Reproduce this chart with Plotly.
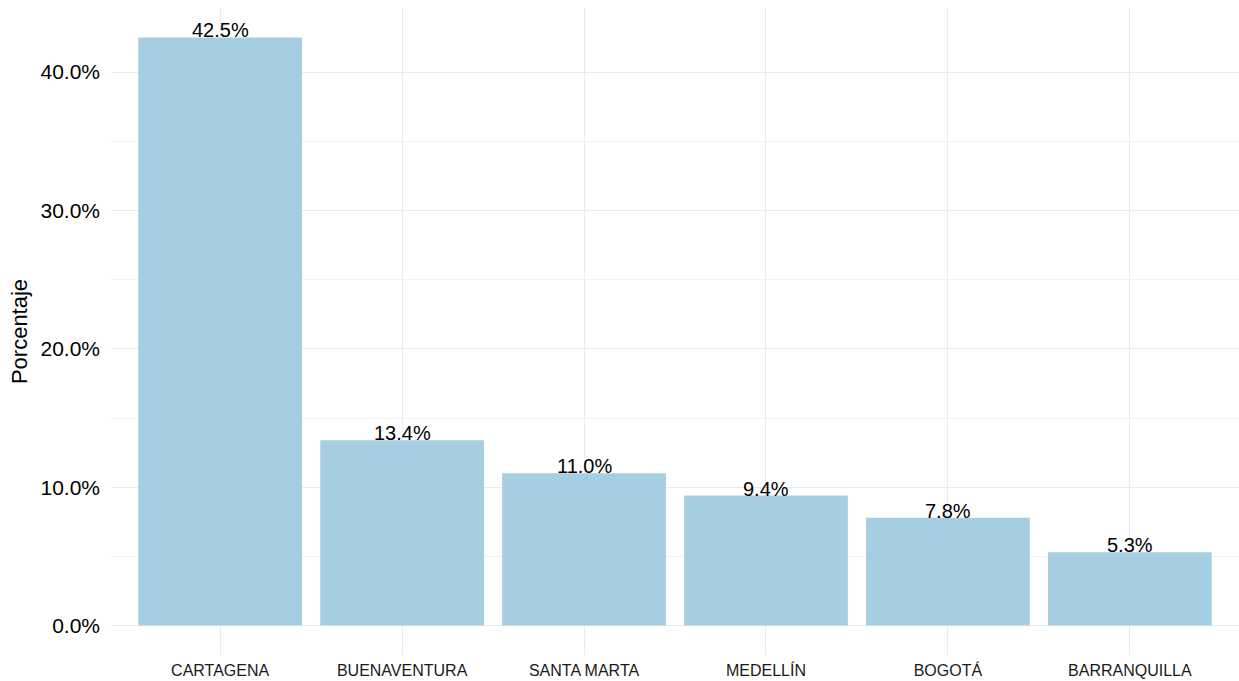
import plotly.graph_objects as go

ciudades = ["CARTAGENA", "BUENAVENTURA", "SANTA MARTA", "MEDELLÍN", "BOGOTÁ", "BARRANQUILLA"]
porcentajes = [42.5, 13.4, 11.0, 9.4, 7.8, 5.3]
etiquetas = [f"{v:.1f}%" for v in porcentajes]
y_ticks = [0, 10, 20, 30, 40]
y_tick_labels = ["0.0%", "10.0%", "20.0%", "30.0%", "40.0%"]

FONT = "Liberation Sans, Arial, sans-serif"

fig = go.Figure()
fig.add_trace(go.Bar(
    x=ciudades, y=porcentajes,
    marker=dict(color="#A6CEE3", line=dict(width=0)),
    width=0.9, hoverinfo="skip",
))

for c, v, t in zip(ciudades, porcentajes, etiquetas):
    fig.add_annotation(
        x=c, y=v, text=t, showarrow=False,
        xanchor="center", yanchor="bottom", yshift=-6,
        font=dict(family=FONT, size=20, color="black"),
    )

ymax = max(porcentajes)
fig.update_layout(
    width=1239, height=681,
    margin=dict(l=111, r=0, t=8, b=26),
    paper_bgcolor="white", plot_bgcolor="white",
    showlegend=False,
    font=dict(family=FONT, color="black"),
    xaxis=dict(
        range=[-0.6, len(ciudades) - 0.4],
        showgrid=True, gridcolor="#EBEBEB", gridwidth=1.2,
        zeroline=False, showline=False, ticks="",
        tickfont=dict(family=FONT, size=16, color="#1A1A1A"),
        automargin=False, ticklabelstandoff=4,
    ),
    yaxis=dict(
        range=[-0.05 * ymax, ymax * 1.05],
        tickvals=y_ticks, ticktext=y_tick_labels,
        showgrid=True, gridcolor="#EBEBEB", gridwidth=1.2,
        minor=dict(dtick=5, tick0=5, showgrid=True, gridcolor="#F2F2F2", gridwidth=0.8),
        zeroline=False, showline=False, ticks="",
        tickfont=dict(family=FONT, size=21, color="black"),
        ticklabelstandoff=10,
        title=dict(text="Porcentaje", font=dict(family=FONT, size=22, color="black"), standoff=6),
        automargin=False,
    ),
)

fig.write_html("out.html", config={"displayModeBar": False},
               post_script="document.body.style.margin='0px';")
